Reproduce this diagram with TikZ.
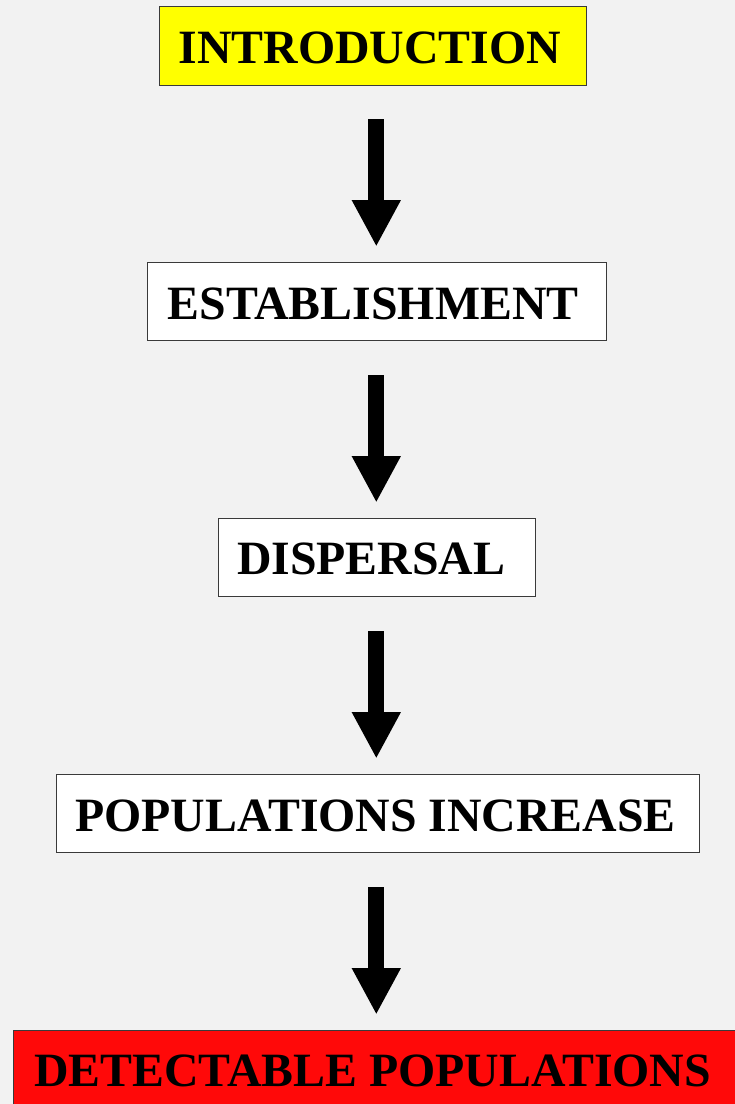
\documentclass[tikz,border=0pt]{standalone}
\usepackage{fontspec}
\setmainfont{Liberation Serif}
\usetikzlibrary{arrows.meta}
\definecolor{bgc}{HTML}{F2F2F2}
\definecolor{edgec}{HTML}{3A3A3A}
\definecolor{yel}{HTML}{FFFF00}
\definecolor{redc}{HTML}{FF0909}
\begin{document}
\begin{tikzpicture}[x=1pt,y=-1pt,
  boxst/.style={draw=edgec,line width=1pt,inner sep=0pt,outer sep=0pt,anchor=north west},
  lbl/.style={anchor=base,inner sep=0pt,font=\fontsize{47.8}{50}\selectfont\bfseries},
  bigarrow/.style={line width=16pt,-{Triangle[length=46.5pt,width=45.5pt]}}]
\useasboundingbox (0,0) rectangle (735,1104);
\clip (0,0) rectangle (735,1104);
\fill[bgc] (0,0) rectangle (735,1104);
% boxes
\node[boxst,fill=yel,minimum width=427.4pt,minimum height=78.3pt] (b1) at (159.3,6.7) {};
\node[boxst,fill=white,minimum width=458.7pt,minimum height=77.7pt] (b2) at (147.3,262.3) {};
\node[boxst,fill=white,minimum width=317.4pt,minimum height=77.7pt] (b3) at (218.3,518.3) {};
\node[boxst,fill=white,minimum width=643.6pt,minimum height=77.7pt] (b4) at (56,774.3) {};
\node[boxst,fill=redc,minimum width=740pt,minimum height=100pt] (b5) at (13.3,1030) {};
% labels
\node[lbl] (t1) at (369.9,63.3) {INTRODUCTION};
\node[lbl] (t2) at (373,319) {ESTABLISHMENT};
\node[lbl] (t3) at (371.2,574) {DISPERSAL};
\node[lbl] (t4) at (375.5,831) {POPULATIONS INCREASE};
\node[lbl] (t5) at (372.5,1086.7) {DETECTABLE POPULATIONS};
% arrows
\coordinate (a1s) at (376.3,119);   \coordinate (a1e) at (376.3,246.7);
\coordinate (a2s) at (376.3,375);   \coordinate (a2e) at (376.3,502.7);
\coordinate (a3s) at (376.3,631);   \coordinate (a3e) at (376.3,758.7);
\coordinate (a4s) at (376.3,887);   \coordinate (a4e) at (376.3,1014.7);
\draw[bigarrow] (a1s) -- (a1e);
\draw[bigarrow] (a2s) -- (a2e);
\draw[bigarrow] (a3s) -- (a3e);
\draw[bigarrow] (a4s) -- (a4e);
\end{tikzpicture}
\end{document}
